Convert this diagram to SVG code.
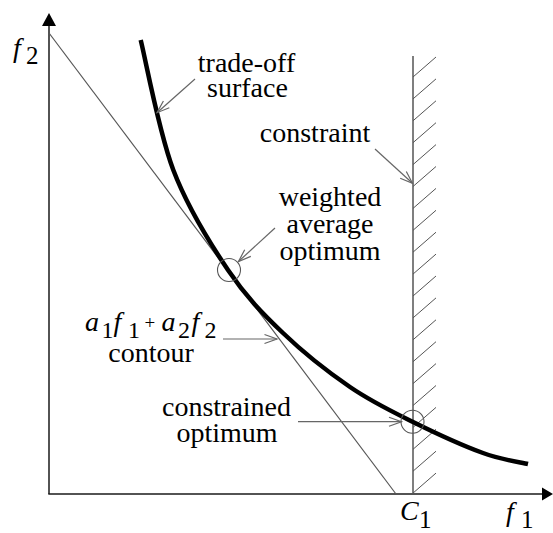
<svg xmlns="http://www.w3.org/2000/svg" width="553" height="533" viewBox="0 0 553 533">
<g id="axes">
<g stroke="#1a1a1a" stroke-width="1.5" fill="none">
<line x1="49" y1="24" x2="49" y2="494"/>
<line x1="48.3" y1="494" x2="544" y2="494"/>
</g>
<polygon points="49,13 42,26 56,26" fill="#000"/>
<polygon points="553,494 542,487.5 542,500.5" fill="#000"/>
<text x="13" y="57" font-family="Liberation Serif" font-size="28" font-style="italic">f</text>
<text x="26" y="64" font-family="Liberation Serif" font-size="25">2</text>
<text x="506" y="521" font-family="Liberation Serif" font-size="28" font-style="italic">f</text>
<text x="521" y="528" font-family="Liberation Serif" font-size="25">1</text>
<text x="400" y="520" font-family="Liberation Serif" font-size="28" font-style="italic">C</text>
<text x="419" y="528" font-family="Liberation Serif" font-size="25">1</text>
</g>
<g id="contour-line">
<line x1="49" y1="33" x2="396" y2="494" stroke="#555" stroke-width="1.2"/>
</g>
<g id="constraint-line">
<line x1="413" y1="56" x2="413" y2="494" stroke="#555" stroke-width="1.5"/>
<g id="hatches" stroke="#555" stroke-width="1">
<line x1="413" y1="77" x2="436" y2="57"/>
<line x1="413" y1="98.9" x2="436" y2="78.9"/>
<line x1="413" y1="120.8" x2="436" y2="100.8"/>
<line x1="413" y1="142.7" x2="436" y2="122.7"/>
<line x1="413" y1="164.6" x2="436" y2="144.6"/>
<line x1="413" y1="186.5" x2="436" y2="166.5"/>
<line x1="413" y1="208.4" x2="436" y2="188.4"/>
<line x1="413" y1="230.3" x2="436" y2="210.3"/>
<line x1="413" y1="252.2" x2="436" y2="232.2"/>
<line x1="413" y1="274.1" x2="436" y2="254.1"/>
<line x1="413" y1="296" x2="436" y2="276"/>
<line x1="413" y1="317.9" x2="436" y2="297.9"/>
<line x1="413" y1="339.8" x2="436" y2="319.8"/>
<line x1="413" y1="361.7" x2="436" y2="341.7"/>
<line x1="413" y1="383.6" x2="436" y2="363.6"/>
<line x1="413" y1="405.5" x2="436" y2="385.5"/>
<line x1="413" y1="427.4" x2="436" y2="407.4"/>
<line x1="413" y1="449.3" x2="436" y2="429.3"/>
<line x1="413" y1="471.2" x2="436" y2="451.2"/>
<line x1="413" y1="493.1" x2="436" y2="473.1"/>
</g>
</g>
<g id="trade-off-curve">
<path d="M140.7,40 C146.1,61.7 158.75,131.7 173.3,170 C187.85,208.3 209.7,242.8 228,270 C246.3,297.2 262.7,313.5 283,333 C303.3,352.5 328.4,372.2 350,387 C371.6,401.8 390.3,410.7 412.5,421.7 C434.7,432.7 463.75,445.95 483,453 C502.25,460.05 520.5,462.2 528,464" fill="none" stroke="#000" stroke-width="4.5"/>
</g>
<g id="weighted-optimum-point">
<circle cx="229" cy="270" r="11.5" stroke="#555" stroke-width="1.1" fill="none"/>
</g>
<g id="constrained-optimum-point">
<circle cx="412.5" cy="421.7" r="11.5" stroke="#555" stroke-width="1.1" fill="none"/>
</g>
<g id="connectors" stroke="#666" stroke-width="1.2" fill="none">
<line x1="195" y1="79" x2="157" y2="112.7"/>
<polyline points="169.3,107.8 157,112.7 163.4,101"/>
<line x1="375" y1="149" x2="412.5" y2="183.3"/>
<polyline points="400.2,178.2 412.5,183.3 406.3,171.5"/>
<line x1="275" y1="228" x2="238.5" y2="261.5"/>
<polyline points="250.8,256.4 238.5,261.5 244.7,249.7"/>
<line x1="223" y1="339" x2="277" y2="339"/>
<polyline points="264.5,334.5 277,339 264.5,343.5"/>
<line x1="298" y1="421.7" x2="401.5" y2="421.7"/>
<polyline points="389,417.2 401.5,421.7 389,426.2"/>
</g>
<g id="label-trade-off" text-anchor="middle">
<text x="246.5" y="72" font-family="Liberation Serif" font-size="28">trade-off</text>
<text x="247.5" y="97" font-family="Liberation Serif" font-size="28">surface</text>
</g>
<g id="label-constraint" text-anchor="middle">
<text x="315" y="141.7" font-family="Liberation Serif" font-size="28">constraint</text>
</g>
<g id="label-weighted" text-anchor="middle">
<text x="330" y="206" font-family="Liberation Serif" font-size="28">weighted</text>
<text x="330" y="233" font-family="Liberation Serif" font-size="28">average</text>
<text x="330" y="259.5" font-family="Liberation Serif" font-size="28">optimum</text>
</g>
<g id="label-contour">
<text x="85" y="331" font-family="Liberation Serif" font-size="28" font-style="italic">a</text>
<text x="101.5" y="337.5" font-family="Liberation Serif" font-size="24">1</text>
<text x="113.5" y="331" font-family="Liberation Serif" font-size="28" font-style="italic">f</text>
<text x="128" y="337.5" font-family="Liberation Serif" font-size="24">1</text>
<text x="144.5" y="329" font-family="Liberation Serif" font-size="19">+</text>
<text x="161.5" y="331" font-family="Liberation Serif" font-size="28" font-style="italic">a</text>
<text x="178" y="337.5" font-family="Liberation Serif" font-size="24">2</text>
<text x="191.5" y="331" font-family="Liberation Serif" font-size="28" font-style="italic">f</text>
<text x="204.5" y="337.5" font-family="Liberation Serif" font-size="24">2</text>
<text x="151" y="362" text-anchor="middle" font-family="Liberation Serif" font-size="28">contour</text>
</g>
<g id="label-constrained" text-anchor="middle">
<text x="226.5" y="416" font-family="Liberation Serif" font-size="28">constrained</text>
<text x="227" y="442" font-family="Liberation Serif" font-size="28">optimum</text>
</g>
</svg>
